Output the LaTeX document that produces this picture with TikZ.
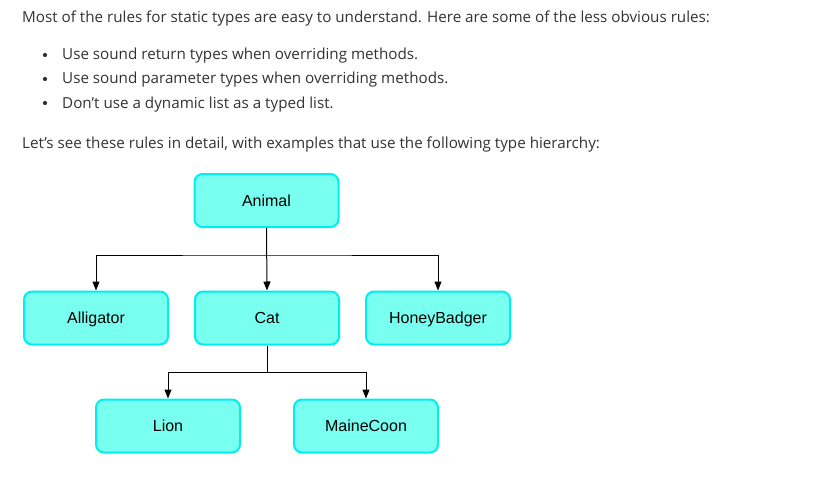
\documentclass[tikz,border=0pt]{standalone}
\usepackage{fontspec}
\setmainfont{Open Sans}
\newfontfamily\boxfont{Liberation Sans}
\usetikzlibrary{arrows.meta}
\definecolor{bodytext}{RGB}{50,50,50}
\definecolor{boxfill}{RGB}{120,255,240}
\definecolor{boxline}{RGB}{0,238,238}
\tikzset{
  typebox/.style={draw=boxline, fill=boxfill, line width=2pt, rounded corners=8pt,
    minimum width=144pt, minimum height=53pt, text height=13pt, text depth=2pt,
    font=\boxfont\fontsize{16}{18}\selectfont},
  para/.style={anchor=base west, text=bodytext, inner sep=0pt, font=\fontsize{15.2}{18}\selectfont},
}
\begin{document}
\begin{tikzpicture}[x=1pt, y=-1pt, >={Triangle[width=7pt,length=9pt]}]
        \useasboundingbox (0,0) rectangle (820,487);

        % text above the diagram
        \node (intro) [para] at (22, 23) {Most of the rules for static types are easy to understand. Here are some of the less obvious rules:};
        \node (b1) [para] at (62, 60) {Use sound return types when overriding methods.};
        \node (b2) [para] at (62, 84) {Use sound parameter types when overriding methods.};
        \node (b3) [para] at (62, 108) {Don’t use a dynamic list as a typed list.};
        \foreach \y in {55, 79, 103}
            \fill[bodytext] (45, \y) circle (2.1pt);
        \node (outro) [para] at (22, 148) {Let’s see these rules in detail, with examples that use the following type hierarchy:};

        % type hierarchy
        \node (animal) [typebox] at (266.5, 200.5) {Animal};
        \node (alligator) [typebox] at (96, 318) {Alligator};
        \node (cat) [typebox] at (267, 318) {Cat};
        \node (badger) [typebox] at (438, 318) {HoneyBadger};
        \node (lion) [typebox] at (168, 426) {Lion};
        \node (coon) [typebox] at (366, 426) {MaineCoon};

        \draw[->, line width=1pt] (animal.south) |- (267, 255) -| (alligator.north);
        \draw[->, line width=1pt] (animal.south) -- (cat.north);
        \draw[->, line width=1pt] (animal.south) |- (267, 255) -| (badger.north);
        \draw[->, line width=1pt] (cat.south) |- (267, 372) -| (lion.north);
        \draw[->, line width=1pt] (cat.south) |- (267, 372) -| (coon.north);
    \end{tikzpicture}
\end{document}
